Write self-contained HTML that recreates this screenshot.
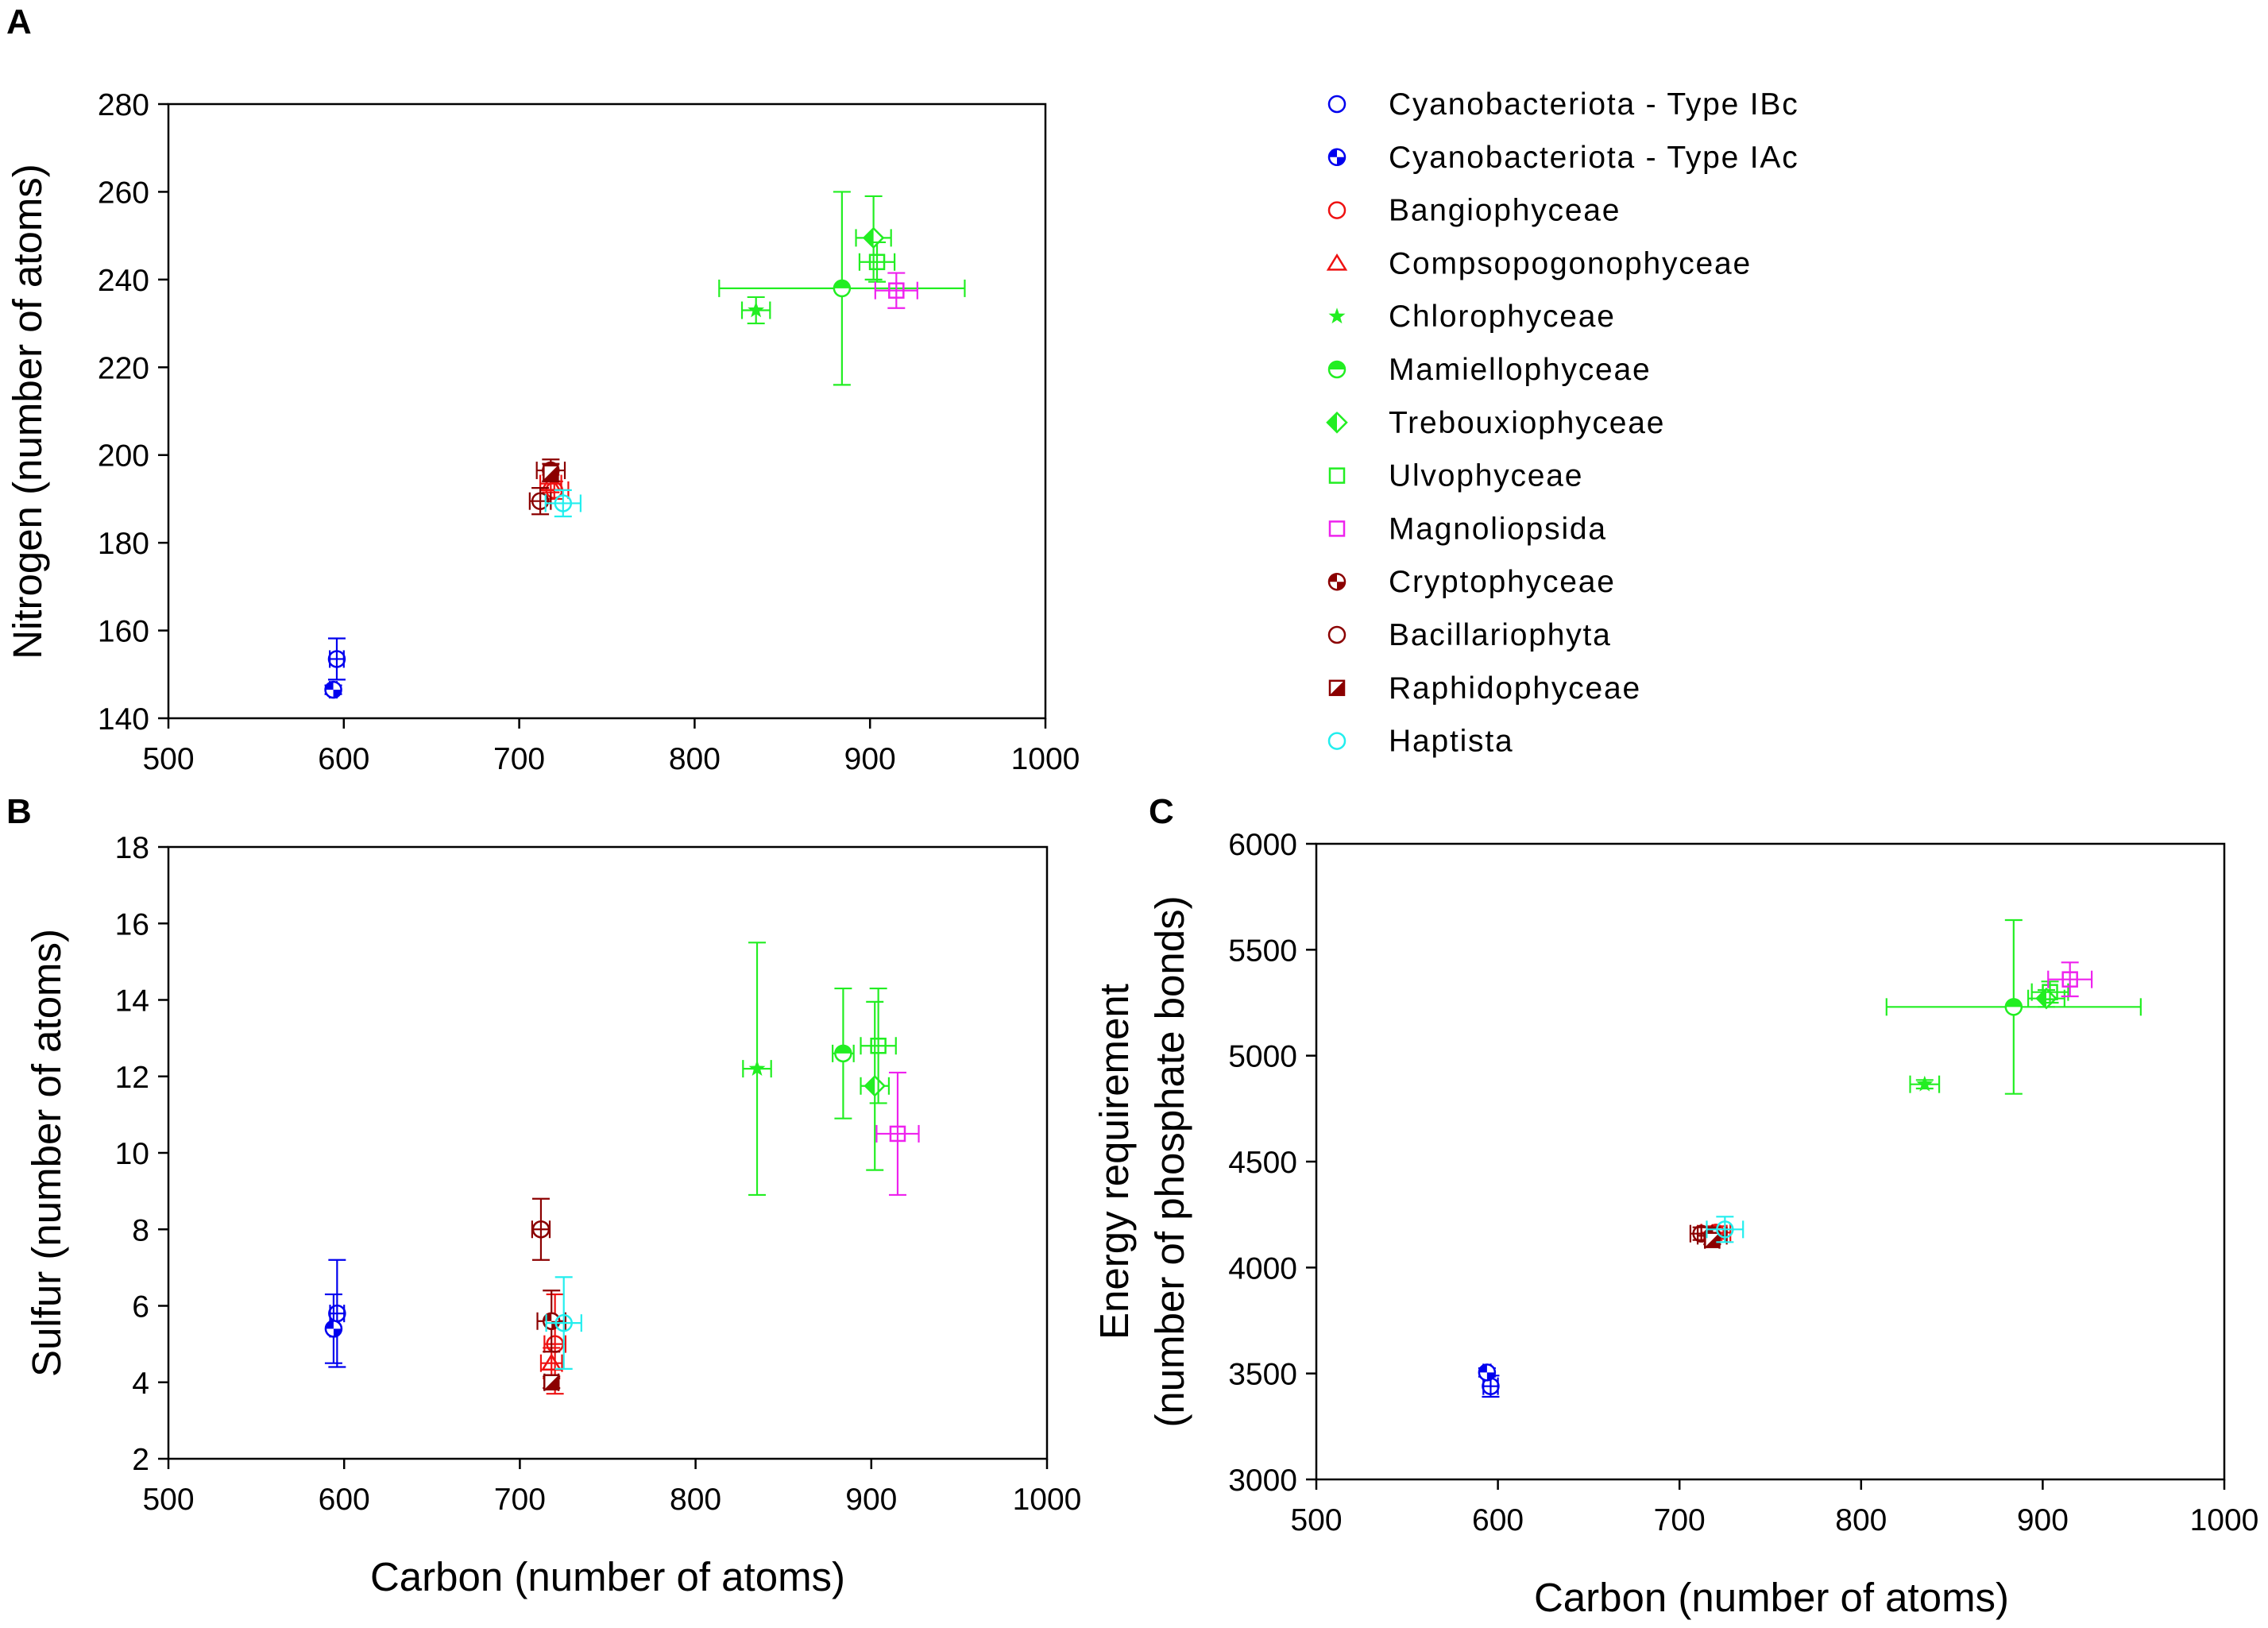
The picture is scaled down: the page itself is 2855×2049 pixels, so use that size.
<!DOCTYPE html>
<html><head><meta charset="utf-8"><style>
html,body{margin:0;padding:0;background:#fff;}
svg{display:block;}
text{font-family:"Liberation Sans Narrow","Liberation Sans",sans-serif;fill:#000;}
.lg{font-family:"Liberation Sans",sans-serif;font-size:39px;letter-spacing:1.8px;}
.ttl{font-family:"Liberation Sans",sans-serif;font-size:51px;}
.tick{font-size:39px;}
.pl{font-family:"Liberation Sans",sans-serif;font-weight:bold;font-size:44px;}
</style></head><body>
<svg id="chart" width="2855" height="2049" viewBox="0 0 2855 2049" xmlns="http://www.w3.org/2000/svg"></svg>
<script>
const seriesNames=["Cyanobacteriota - Type IBc","Cyanobacteriota - Type IAc","Bangiophyceae","Compsopogonophyceae","Chlorophyceae","Mamiellophyceae","Trebouxiophyceae","Ulvophyceae","Magnoliopsida","Cryptophyceae","Bacillariophyta","Raphidophyceae","Haptista"];
const seriesColors=["#0000ee","#0000ee","#ee1111","#ee1111","#22ee22","#22ee22","#22ee22","#22ee22","#ee22ee","#8b0000","#8b0000","#8b0000","#22eeee"];
const seriesMarkers=["circle","quarter","circle","triangle","star","halfcircle","diamond","square","square","quarter","circle","halfsquare","circle"];
const carbon=[596,594,720,718,835,884,902,904,915,718,712,718,725];
const carbonErr=[4,2,8,6,8,70,10,10,12,8,6,4,10];
const nitrogen=[153.5,146.5,192,193.5,233,238,249.5,244,237.5,196.5,189.5,196,189];
const nitrogenErr=[4.7,1,2,2,3,22,9.5,4.5,4,2.5,3,2,3];
const sulfur=[5.8,5.4,5.0,4.5,12.2,12.6,11.75,12.8,10.5,5.6,8.0,4.0,5.55];
const sulfurErr=[1.4,0.9,1.3,0.4,3.3,1.7,2.2,1.5,1.6,0.8,0.8,0.15,1.2];
const sulfurCErr=[4,2,6,6,8,6,8,10,12,8,5,4,10];
const energy=[3440,3505,4165,4160,4865,5230,5270,5300,5360,4150,4160,4130,4180];
const energyErr=[50,20,30,30,20,410,40,50,80,40,30,20,60];
const energyCErr=[4,2,8,8,8,70,10,10,12,8,6,4,10];
const xTicks=[500,600,700,800,900,1000];
const nTicks=[140,160,180,200,220,240,260,280];
const sTicks=[2,4,6,8,10,12,14,16,18];
const eTicks=[3000,3500,4000,4500,5000,5500,6000];

const NS="http://www.w3.org/2000/svg";
const svg=document.getElementById('chart');
function el(tag,attrs,parent){const e=document.createElementNS(NS,tag);for(const k in attrs)e.setAttribute(k,attrs[k]);(parent||svg).appendChild(e);return e;}
function txt(s,attrs,parent){const t=el('text',attrs,parent);t.textContent=s;return t;}

function marker(g,type,cx,cy,c){
  const r=10;
  if(type==="circle"){el('circle',{cx,cy,r,fill:'none',stroke:c,'stroke-width':2.5},g);}
  else if(type==="quarter"){el('circle',{cx,cy,r,fill:'#fff',stroke:c,'stroke-width':2.5},g);
    el('path',{d:`M${cx},${cy} L${cx-r},${cy} A${r},${r} 0 0 1 ${cx},${cy-r} Z M${cx},${cy} L${cx+r},${cy} A${r},${r} 0 0 1 ${cx},${cy+r} Z`,fill:c},g);}
  else if(type==="halfcircle"){el('circle',{cx,cy,r,fill:'#fff',stroke:c,'stroke-width':2.5},g);
    el('path',{d:`M${cx-r},${cy} A${r},${r} 0 0 1 ${cx+r},${cy} Z`,fill:c},g);}
  else if(type==="triangle"){el('polygon',{points:`${cx},${cy-r} ${cx+r*1.1},${cy+r*0.8} ${cx-r*1.1},${cy+r*0.8}`,fill:'none',stroke:c,'stroke-width':2.5},g);}
  else if(type==="square"){el('rect',{x:cx-r*0.9,y:cy-r*0.9,width:r*1.8,height:r*1.8,fill:'none',stroke:c,'stroke-width':2.5},g);}
  else if(type==="halfsquare"){el('rect',{x:cx-r*0.9,y:cy-r*0.9,width:r*1.8,height:r*1.8,fill:'#fff',stroke:c,'stroke-width':2.5},g);
    el('polygon',{points:`${cx+r*0.9},${cy-r*0.9} ${cx+r*0.9},${cy+r*0.9} ${cx-r*0.9},${cy+r*0.9}`,fill:c},g);}
  else if(type==="diamond"){el('polygon',{points:`${cx},${cy-r*1.2} ${cx+r*1.2},${cy} ${cx},${cy+r*1.2} ${cx-r*1.2},${cy}`,fill:'#fff',stroke:c,'stroke-width':2.5},g);
    el('polygon',{points:`${cx},${cy-r*1.2} ${cx},${cy+r*1.2} ${cx-r*1.2},${cy}`,fill:c},g);}
  else if(type==="star"){let p=[];for(let i=0;i<10;i++){const a=-Math.PI/2+i*Math.PI/5;const rr=i%2?r*0.45:r*1.1;p.push((cx+rr*Math.cos(a)).toFixed(1)+','+(cy+rr*Math.sin(a)).toFixed(1));}
    el('polygon',{points:p.join(' '),fill:c},g);}
}

function panel(name,L,R,T,B,ymin,ymax,yTicks,yVals,yErr,xErr){
  const g=el('g',{});
  
  
  const sx=v=>L+(v-500)/500*(R-L);
  const sy=v=>B-(v-ymin)/(ymax-ymin)*(B-T);
  el('rect',{x:L,y:T,width:R-L,height:B-T,fill:'none',stroke:'#000','stroke-width':2.5},g);
  xTicks.forEach(v=>{const x=sx(v);el('line',{x1:x,y1:B,x2:x,y2:B+13,stroke:'#000','stroke-width':2.5},g);
    const t=txt(v,{x:x,y:B+64,'text-anchor':'middle',class:'tick'},g);
    });
  yTicks.forEach(v=>{const y=sy(v);el('line',{x1:L-13,y1:y,x2:L,y2:y,stroke:'#000','stroke-width':2.5},g);
    const t=txt(v,{x:L-24,y:y+14,'text-anchor':'end',class:'tick'},g);
    });
  for(let i=0;i<carbon.length;i++){
    const s=el('g',{},g);
    
    
    const c=seriesColors[i];const x=sx(carbon[i]),y=sy(yVals[i]);
    const y1=sy(yVals[i]+yErr[i]),y2=sy(yVals[i]-yErr[i]);
    const x1=sx(carbon[i]-xErr[i]),x2=sx(carbon[i]+xErr[i]);
    el('line',{x1:x,y1:y1,x2:x,y2:y2,stroke:c,'stroke-width':2.2},s);
    el('line',{x1:x-11,y1:y1,x2:x+11,y2:y1,stroke:c,'stroke-width':2.2},s);
    el('line',{x1:x-11,y1:y2,x2:x+11,y2:y2,stroke:c,'stroke-width':2.2},s);
    el('line',{x1:x1,y1:y,x2:x2,y2:y,stroke:c,'stroke-width':2.2},s);
    el('line',{x1:x1,y1:y-11,x2:x1,y2:y+11,stroke:c,'stroke-width':2.2},s);
    el('line',{x1:x2,y1:y-11,x2:x2,y2:y+11,stroke:c,'stroke-width':2.2},s);
    marker(s,seriesMarkers[i],x,y,c);
  }
}
panel('panel-a-nitrogen',212,1316,131,904,140,280,nTicks,nitrogen,nitrogenErr,carbonErr);
panel('panel-b-sulfur',212,1318,1066,1836,2,18,sTicks,sulfur,sulfurErr,sulfurCErr);
panel('panel-c-energy',1657,2800,1062,1862,3000,6000,eTicks,energy,energyErr,energyCErr);

const lg=el('g',{});


seriesNames.forEach((n,i)=>{
  const y=131+i*66.8;
  const e=el('g',{},lg);
  
  
  marker(e,seriesMarkers[i],1683,y,seriesColors[i]);
  txt(n,{x:1748,y:y+13,class:'lg'},e);
});
</script>
<div style="position:absolute;left:0;top:0;width:2855px;height:2049px;pointer-events:none;">
<svg width="2855" height="2049" style="position:absolute;left:0;top:0">
<text class="pl" x="8" y="42">A</text>
<text class="pl" x="8" y="1036">B</text>
<text class="pl" x="1446" y="1036">C</text>
<text class="ttl" transform="translate(52,518) rotate(-90)" text-anchor="middle">Nitrogen (number of atoms)</text>
<text class="ttl" transform="translate(76,1451) rotate(-90)" text-anchor="middle">Sulfur (number of atoms)</text>
<text class="ttl" x="765" y="2002" text-anchor="middle">Carbon (number of atoms)</text>
<text class="ttl" transform="translate(1420,1462) rotate(-90)" text-anchor="middle">Energy requirement</text>
<text class="ttl" transform="translate(1490,1462) rotate(-90)" text-anchor="middle">(number of phosphate bonds)</text>
<text class="ttl" x="2230" y="2028" text-anchor="middle">Carbon (number of atoms)</text>
</svg></div>
</body></html>
